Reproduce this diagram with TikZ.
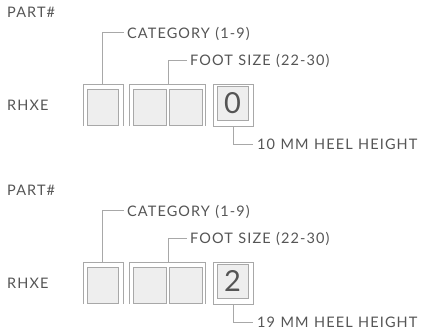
\documentclass[tikz,border=0pt]{standalone}
\usepackage{fontspec}
\setmainfont{Lato}[LetterSpace=7.5, WordSpace=1.15]
\definecolor{boxline}{HTML}{A8A8A8}
\definecolor{boxfill}{HTML}{EEEEEE}
\definecolor{labeltext}{HTML}{555555}
\tikzset{
  bracket/.style={draw=boxline, line width=0.9pt},
  cell/.style={draw=boxline, fill=boxfill, line width=0.9pt},
  leader/.style={draw=boxline, line width=0.9pt},
  lbl/.style={anchor=base west, inner sep=0pt, text=labeltext, font=\fontsize{14.5}{16}\selectfont},
  digit/.style={text=labeltext, font=\fontsize{29}{30}\selectfont}
}
\begin{document}
\begin{tikzpicture}[x=1pt, y=-1pt]
    \useasboundingbox (0,0) rectangle (422,334);
      \foreach \grp/\dig/\mm in {0/0/10,1/2/19} {
        \begin{scope}[shift={(0,178*\grp)}]
          \node[lbl] (part\grp) at (7,17.7) {PART\#};
          \node[lbl] (code\grp) at (7,110.7) {RHXE};
          % brackets and cells
          \draw[bracket] (83,126) |- (123,84) -- (123,126);
          \draw[cell] (87,89) rectangle (118,125);
          \draw[bracket] (129,126) |- (205,84) -- (205,126);
          \draw[cell] (133,89) rectangle (166,125);
          \draw[cell] (169,89) rectangle (202,125);
          \draw[bracket] (213,84) rectangle (253,126);
          \draw[cell] (217,86) rectangle (248,120) node[pos=.5, digit] (dig\grp) {\dig};
          \coordinate (catbox\grp) at (102,84);
          \coordinate (sizebox\grp) at (168,84);
          \coordinate (heelbox\grp) at (233,126);
          % labels
          \node[lbl] (cat\grp) at (127,38.3) {CATEGORY (1-9)};
          \node[lbl] (size\grp) at (190,65.7) {FOOT SIZE (22-30)};
          \node[lbl] (heel\grp) at (257,149.5) {\mm{} MM HEEL HEIGHT};
          \draw[leader] ([xshift=-3pt,yshift=5.5pt]cat\grp.base west) -| (catbox\grp);
          \draw[leader] ([xshift=-3pt,yshift=5.5pt]size\grp.base west) -| (sizebox\grp);
          \draw[leader] (heelbox\grp) |- ([xshift=-4pt,yshift=5.5pt]heel\grp.base west);
        \end{scope}
      }
\end{tikzpicture}
\end{document}
